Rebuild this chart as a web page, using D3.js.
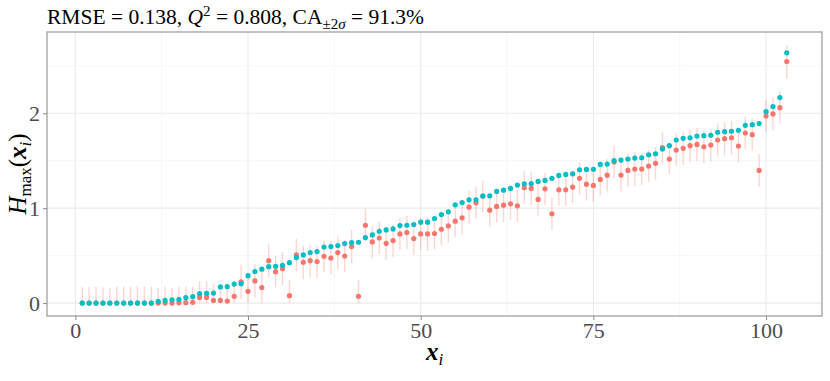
<!DOCTYPE html>
<html>
<head>
<meta charset="utf-8">
<script src="https://cdn.jsdelivr.net/npm/d3@7"></script>
<style>
  body { margin: 0; background: #fff; }
  text { font-family: "Liberation Serif", "DejaVu Serif", serif; }
</style>
</head>
<body>
<div id="graph"></div>
<script>
"use strict";

// true values (teal), sorted ascending
const truth = [
  0, 0, 0, 0, 0, 0, 0, 0, 0, 0, 0,
  0.018, 0.028, 0.035, 0.039, 0.057, 0.068, 0.099, 0.102, 0.106, 0.170,
  0.173, 0.200, 0.205, 0.289, 0.333, 0.357, 0.384, 0.387, 0.398, 0.426,
  0.479, 0.507, 0.532, 0.543, 0.591, 0.595, 0.606, 0.627, 0.638, 0.641,
  0.690, 0.718, 0.757, 0.771, 0.781, 0.817, 0.820, 0.828, 0.852, 0.852,
  0.891, 0.933, 0.961, 1.035, 1.060, 1.088, 1.088, 1.127, 1.130, 1.176,
  1.190, 1.208, 1.243, 1.257, 1.260, 1.282, 1.292, 1.314, 1.345, 1.356,
  1.362, 1.405, 1.408, 1.410, 1.461, 1.465, 1.502, 1.507, 1.517, 1.528,
  1.531, 1.563, 1.573, 1.623, 1.658, 1.718, 1.736, 1.742, 1.760, 1.764,
  1.768, 1.800, 1.806, 1.810, 1.820, 1.873, 1.880, 1.891, 2.017, 2.070,
  2.165, 2.637
];

// predicted values (red)
const pred = [
  0, 0, 0, 0, 0, 0, 0, 0, 0, 0, 0,
  0, 0, 0, 0.004, 0.004, 0.008, 0.060, 0.060, 0.028, 0.028,
  0.021, 0.071, 0.225, 0.124, 0.234, 0.164, 0.447, 0.331, 0.363, 0.078,
  0.507, 0.430, 0.447, 0.437, 0.493, 0.475, 0.532, 0.496, 0.595, 0.071,
  0.820, 0.644, 0.686, 0.630, 0.659, 0.729, 0.743, 0.680, 0.729, 0.729,
  0.733, 0.778, 0.813, 0.863, 0.898, 1.011, 1.056, 1.127, 0.979, 1.018,
  1.032, 1.046, 1.025, 1.215, 1.208, 1.092, 1.204, 0.940, 1.193, 1.193,
  1.222, 1.314, 1.253, 1.240, 1.303, 1.348, 1.486, 1.349, 1.398, 1.412,
  1.412, 1.443, 1.472, 1.637, 1.517, 1.612, 1.630, 1.658, 1.672, 1.647,
  1.665, 1.718, 1.732, 1.742, 1.655, 1.792, 1.774, 1.398, 1.971, 1.993,
  2.059, 2.545
];

// half width of the +-2 sigma band
const band = [
  0.170, 0.170, 0.175, 0.165, 0.165, 0.175, 0.175, 0.170, 0.175, 0.175, 0.170,
  0.165, 0.170, 0.165, 0.165, 0.170, 0.165, 0.173, 0.173, 0.177, 0.170,
  0.170, 0.170, 0.180, 0.170, 0.175, 0.170, 0.172, 0.165, 0.174, 0.170,
  0.170, 0.175, 0.170, 0.170, 0.170, 0.175, 0.170, 0.170, 0.175, 0.173,
  0.174, 0.170, 0.170, 0.175, 0.170, 0.170, 0.175, 0.170, 0.170, 0.175,
  0.170, 0.168, 0.172, 0.170, 0.170, 0.175, 0.170, 0.167, 0.170, 0.170,
  0.175, 0.170, 0.170, 0.175, 0.175, 0.170, 0.170, 0.169, 0.170, 0.175,
  0.170, 0.170, 0.175, 0.170, 0.170, 0.170, 0.172, 0.170, 0.175, 0.180,
  0.170, 0.170, 0.175, 0.170, 0.150, 0.170, 0.175, 0.170, 0.175, 0.170,
  0.170, 0.175, 0.175, 0.175, 0.170, 0.170, 0.170, 0.172, 0.170, 0.170,
  0.170, 0.175
];

const xTicks = [0, 25, 50, 75, 100];
const xMinor = [12.5, 37.5, 62.5, 87.5];
const yTicks = [0, 1, 2];
const yMinor = [0.5, 1.5, 2.5];

(function() {
    const W = 830, H = 381;
    const panel = { left: 47, right: 822, top: 32, bottom: 316 };

    window.addEventListener("load", init);

    function init() {
        const svg = d3.select("#graph").append("svg")
            .attr("width", W).attr("height", H);

        const data = truth.map((t, i) => ({
            idx: i + 1, truth: t, pred: pred[i],
            lo: Math.max(0, pred[i] - band[i]), hi: pred[i] + band[i]
        }));

        // ggplot style 5% expansion
        const xr = [1, data.length];
        const xe = (xr[1] - xr[0]) * 0.05;
        const xScale = d3.scaleLinear()
            .domain([xr[0] - xe, xr[1] + xe])
            .range([panel.left, panel.right]);

        const ymin = d3.min(data, d => Math.min(d.lo, d.truth));
        const ymax = d3.max(data, d => Math.max(d.hi, d.truth));
        const ye = (ymax - ymin) * 0.05;
        const yScale = d3.scaleLinear()
            .domain([ymin - ye, ymax + ye])
            .range([panel.bottom, panel.top]);

        const grid = svg.append("g");
        grid.selectAll(".xminor").data(xMinor).enter().append("line")
            .attr("x1", d => xScale(d)).attr("x2", d => xScale(d))
            .attr("y1", panel.top).attr("y2", panel.bottom)
            .attr("stroke", "#f2f2f2").attr("stroke-width", 0.7);
        grid.selectAll(".yminor").data(yMinor).enter().append("line")
            .attr("y1", d => yScale(d)).attr("y2", d => yScale(d))
            .attr("x1", panel.left).attr("x2", panel.right)
            .attr("stroke", "#f2f2f2").attr("stroke-width", 0.7);
        grid.selectAll(".xmajor").data(xTicks).enter().append("line")
            .attr("x1", d => xScale(d)).attr("x2", d => xScale(d))
            .attr("y1", panel.top).attr("y2", panel.bottom)
            .attr("stroke", "#ebebeb").attr("stroke-width", 1.1);
        grid.selectAll(".ymajor").data(yTicks).enter().append("line")
            .attr("y1", d => yScale(d)).attr("y2", d => yScale(d))
            .attr("x1", panel.left).attr("x2", panel.right)
            .attr("stroke", "#ebebeb").attr("stroke-width", 1.1);

        // error bars
        svg.append("g").selectAll("line").data(data).enter().append("line")
            .attr("x1", d => xScale(d.idx)).attr("x2", d => xScale(d.idx))
            .attr("y1", d => yScale(d.lo)).attr("y2", d => yScale(d.hi))
            .attr("stroke", "#F8766D").attr("stroke-opacity", 0.3)
            .attr("stroke-width", 1.4);

        svg.append("g").selectAll("circle").data(data).enter().append("circle")
            .attr("cx", d => xScale(d.idx)).attr("cy", d => yScale(d.pred))
            .attr("r", 2.6).attr("fill", "#F8766D");

        svg.append("g").selectAll("circle").data(data).enter().append("circle")
            .attr("cx", d => xScale(d.idx)).attr("cy", d => yScale(d.truth))
            .attr("r", 2.6).attr("fill", "#00BFC4");

        // panel border
        svg.append("rect")
            .attr("x", panel.left).attr("y", panel.top)
            .attr("width", panel.right - panel.left)
            .attr("height", panel.bottom - panel.top)
            .attr("fill", "none").attr("stroke", "#a0a0a0").attr("stroke-width", 1.3);

        const xAxis = svg.append("g")
            .attr("transform", "translate(0," + panel.bottom + ")")
            .call(d3.axisBottom(xScale).tickValues(xTicks).tickSize(4).tickPadding(2)
                .tickFormat(d3.format("d")));
        const yAxis = svg.append("g")
            .attr("transform", "translate(" + panel.left + ",0)")
            .call(d3.axisLeft(yScale).tickValues(yTicks).tickSize(4).tickPadding(3)
                .tickFormat(d3.format("d")));
        [xAxis, yAxis].forEach(a => {
            a.select(".domain").remove();
            a.selectAll(".tick line").attr("stroke", "#8a8a8a").attr("stroke-width", 1);
            a.selectAll(".tick text")
                .attr("fill", "#4d4d4d")
                .style("font-family", "'Liberation Serif', serif")
                .style("font-size", "22px");
        });
        xAxis.selectAll(".tick text").attr("dy", "0.72em");
        yAxis.selectAll(".tick text").attr("dy", "0.33em");

        // title
        const title = svg.append("text")
            .attr("x", 47).attr("y", 24)
            .style("font-size", "21.5px").attr("fill", "#000");
        title.append("tspan").text("RMSE = 0.138,  ");
        title.append("tspan").style("font-style", "italic").text("Q");
        title.append("tspan").attr("dy", -8).style("font-size", "15px").text("2");
        title.append("tspan").attr("dy", 8).text(" = 0.808,  CA");
        title.append("tspan").attr("dy", 5).style("font-size", "15px").text("\u00b12");
        title.append("tspan").style("font-size", "15px").style("font-style", "italic").text("\u03c3");
        title.append("tspan").attr("dy", -5).text(" = 91.3%");

        // x title
        const xt = svg.append("text")
            .attr("x", (panel.left + panel.right) / 2).attr("y", 360)
            .attr("text-anchor", "middle").style("font-size", "25px");
        xt.append("tspan").style("font-weight", "bold").style("font-style", "italic").text("x");
        xt.append("tspan").attr("dy", 5).style("font-size", "17px").style("font-style", "italic").text("i");

        // y title
        const yt = svg.append("text")
            .attr("transform", "translate(26," + (panel.top + panel.bottom) / 2 + ") rotate(-90)")
            .attr("text-anchor", "middle").style("font-size", "25px");
        yt.append("tspan").style("font-style", "italic").text("H");
        yt.append("tspan").attr("dy", 5).style("font-size", "17px").text("max");
        yt.append("tspan").attr("dy", -5).text("(");
        yt.append("tspan").style("font-weight", "bold").style("font-style", "italic").text("x");
        yt.append("tspan").attr("dy", 5).style("font-size", "17px").style("font-style", "italic").text("i");
        yt.append("tspan").attr("dy", -5).text(")");
    }
})();
</script>
</body>
</html>
